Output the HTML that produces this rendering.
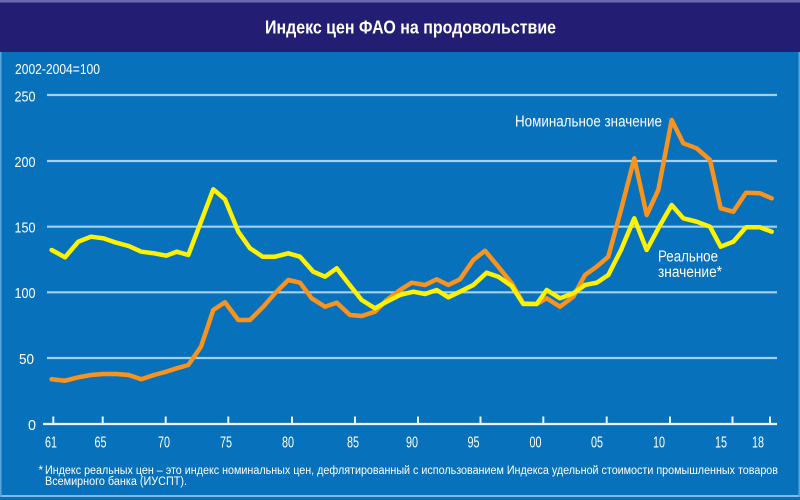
<!DOCTYPE html>
<html>
<head>
<meta charset="utf-8">
<style>
html,body{margin:0;padding:0;background:#0a72bb;}
body{width:800px;height:500px;overflow:hidden;}
svg{display:block;}
text{font-family:"Liberation Sans","DejaVu Sans",sans-serif;fill:#ffffff;}
</style>
</head>
<body>
<svg width="800" height="500" viewBox="0 0 800 500" xmlns="http://www.w3.org/2000/svg">
  <!-- background -->
  <rect x="0" y="0" width="800" height="500" fill="#0871bb"/>
  <!-- title bar -->
  <rect x="0" y="0" width="800" height="52" fill="#231e74"/>
  <rect x="0" y="0" width="800" height="2.5" fill="#6d69ad"/>
  <!-- frame lines -->
  <rect x="0" y="495" width="800" height="2" fill="#7fbbe6"/>
  <rect x="0" y="52" width="1.5" height="445" fill="#5aa6dc"/>
  <rect x="798.5" y="52" width="1.5" height="445" fill="#5aa6dc"/>

  <text x="265" y="33.5" font-size="18" font-weight="bold" textLength="291" lengthAdjust="spacingAndGlyphs">Индекс цен ФАО на продовольствие</text>

  <text x="15" y="74" font-size="14.5" textLength="85" lengthAdjust="spacingAndGlyphs">2002-2004=100</text>

  <!-- gridlines -->
  <g stroke="#a6d0f0" stroke-width="2.2">
    <line x1="47" y1="95" x2="777" y2="95"/>
    <line x1="47" y1="161" x2="777" y2="161"/>
    <line x1="47" y1="226.7" x2="777" y2="226.7"/>
    <line x1="47" y1="292.3" x2="777" y2="292.3"/>
    <line x1="47" y1="358" x2="777" y2="358"/>
  </g>
  <!-- axis -->
  <line x1="43" y1="424" x2="777" y2="424" stroke="#e8f3fb" stroke-width="2.2"/>
  <g stroke="#e8f3fb" stroke-width="2">
    <line x1="53.3" y1="416.5" x2="53.3" y2="424"/>
    <line x1="102.7" y1="416.5" x2="102.7" y2="424"/>
    <line x1="165.7" y1="416.5" x2="165.7" y2="424"/>
    <line x1="228.3" y1="416.5" x2="228.3" y2="424"/>
    <line x1="292" y1="416.5" x2="292" y2="424"/>
    <line x1="355" y1="416.5" x2="355" y2="424"/>
    <line x1="418" y1="416.5" x2="418" y2="424"/>
    <line x1="480.5" y1="416.5" x2="480.5" y2="424"/>
    <line x1="543.3" y1="416.5" x2="543.3" y2="424"/>
    <line x1="606.7" y1="416.5" x2="606.7" y2="424"/>
    <line x1="670" y1="416.5" x2="670" y2="424"/>
    <line x1="732.5" y1="416.5" x2="732.5" y2="424"/>
    <line x1="770" y1="416.5" x2="770" y2="424"/>
  </g>

  <!-- y labels -->
  <g font-size="15" text-anchor="end">
    <text x="35.5" y="101.5" textLength="21" lengthAdjust="spacingAndGlyphs">250</text>
    <text x="35.5" y="167" textLength="21" lengthAdjust="spacingAndGlyphs">200</text>
    <text x="35.5" y="232.5" textLength="21" lengthAdjust="spacingAndGlyphs">150</text>
    <text x="35.5" y="298" textLength="21" lengthAdjust="spacingAndGlyphs">100</text>
    <text x="34" y="364" textLength="15" lengthAdjust="spacingAndGlyphs">50</text>
    <text x="36" y="430" textLength="8" lengthAdjust="spacingAndGlyphs">0</text>
  </g>

  <!-- x labels -->
  <g font-size="16" text-anchor="middle">
    <text x="51" y="447.5" textLength="12" lengthAdjust="spacingAndGlyphs">61</text>
    <text x="100.5" y="447.5" textLength="12" lengthAdjust="spacingAndGlyphs">65</text>
    <text x="164" y="447.5" textLength="12" lengthAdjust="spacingAndGlyphs">70</text>
    <text x="226" y="447.5" textLength="12" lengthAdjust="spacingAndGlyphs">75</text>
    <text x="288" y="447.5" textLength="12" lengthAdjust="spacingAndGlyphs">80</text>
    <text x="353" y="447.5" textLength="12" lengthAdjust="spacingAndGlyphs">85</text>
    <text x="412" y="447.5" textLength="12" lengthAdjust="spacingAndGlyphs">90</text>
    <text x="473.5" y="447.5" textLength="12" lengthAdjust="spacingAndGlyphs">95</text>
    <text x="535.5" y="447.5" textLength="12" lengthAdjust="spacingAndGlyphs">00</text>
    <text x="597" y="447.5" textLength="12" lengthAdjust="spacingAndGlyphs">05</text>
    <text x="659" y="447.5" textLength="12" lengthAdjust="spacingAndGlyphs">10</text>
    <text x="721" y="447.5" textLength="12" lengthAdjust="spacingAndGlyphs">15</text>
    <text x="758" y="447.5" textLength="12" lengthAdjust="spacingAndGlyphs">18</text>
  </g>

  <!-- nominal (orange) -->
  <polyline fill="none" stroke="#f7931e" stroke-width="4.5" stroke-linejoin="round" stroke-linecap="round"
    points="51.7,379.3 65,380.7 78.3,377.3 91,375 103.3,374 116.3,374 128.7,375 141.3,379.3 154,375 166.3,371.7 176.7,368.3 188.3,365 201,346.7 213.3,310 225,302.3 238.3,320 250,320 263.3,306.7 275,293.3 288.3,280 300,282.7 311.7,298.3 325,306.7 336.7,302.7 350,315 361.7,316 375,311.7 386.7,300 400,290 411.7,282.7 425,285 436.7,279.3 448.3,285 460,279.3 473.3,260 485,250.7 498.3,266.7 511.7,283.3 523.3,303.3 536.7,304 546.7,298.3 560,306.7 573.3,296.7 585,275 596.7,266.7 608.3,256.7 621,210 634.3,158.3 646.7,215 658.3,190 671.7,120 683.3,143.3 696.7,148.3 710,160 720.7,208.3 733.3,211.7 746,192.7 760,193.3 771.7,198.3"/>

  <!-- real (yellow) -->
  <polyline fill="none" stroke="#fff200" stroke-width="4.5" stroke-linejoin="round" stroke-linecap="round"
    points="51.7,250 65,257.3 78.3,241.7 91,236.7 103.3,238.3 116.3,242.7 128.7,246 141.3,251.7 154,253.3 166.3,255.7 176.7,251.7 188.3,255 213.3,189.3 225,199.3 238.3,231.7 250,248.3 262.7,256.7 275,256.7 288.3,253.3 300,256.7 313.3,271.7 325,276.7 336.7,268.3 348.3,283.3 361.7,300 375,308.3 386.7,301.7 400,295 413.3,291.7 425,294 436.7,290 448.3,297.3 460,291.7 473.3,285 486.7,272.7 498.3,276.7 511.7,286 523.3,304 536.7,304 546.7,290 560,298.3 573.3,293.3 585,285 596.7,282.7 608.3,275 621,250 634.3,218.3 646.7,250 658.3,228.3 671.7,205 683.3,218.3 696.7,221.7 710,226.7 720.7,246.7 733.3,241.7 746,227.3 760,227.3 771.7,231.7"/>

  <!-- series labels -->
  <text x="515" y="126.7" font-size="15.5" textLength="147" lengthAdjust="spacingAndGlyphs">Номинальное значение</text>
  <text x="658" y="261.5" font-size="15.5" textLength="60" lengthAdjust="spacingAndGlyphs">Реальное</text>
  <text x="658" y="277" font-size="15.5" textLength="64" lengthAdjust="spacingAndGlyphs">значение*</text>

  <!-- footnote -->
  <text x="38.5" y="474" font-size="11.5">*</text>
  <text x="45" y="474" font-size="11.5" textLength="733" lengthAdjust="spacingAndGlyphs">Индекс реальных цен – это индекс номинальных цен, дефлятированный с использованием Индекса удельной стоимости промышленных товаров</text>
  <text x="45" y="485" font-size="11.5" textLength="142" lengthAdjust="spacingAndGlyphs">Всемирного банка (ИУСПТ).</text>
</svg>
</body>
</html>
